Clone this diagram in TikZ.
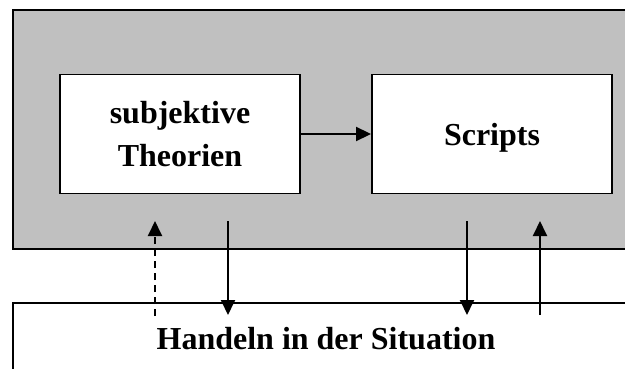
\documentclass[tikz,border=0pt]{standalone}
\usepackage{fontspec}
\setmainfont{Liberation Serif}
\usetikzlibrary{arrows.meta}
\definecolor{bggray}{HTML}{C0C0C0}
\begin{document}
\begin{tikzpicture}[x=1pt,y=-1pt,
  lw/.style={line width=1.9pt},
  txt/.style={font=\fontsize{32}{43}\selectfont\bfseries},
  box/.style={draw, lw, fill=white, minimum width=240pt, minimum height=119pt,
    inner sep=0pt, align=center, text depth=0pt, txt},
  arr/.style={lw, -{Triangle[length=15pt,width=14pt]}},
  dasharr/.style={arr, dash pattern=on 7pt off 5pt},
]
\useasboundingbox (0,0) rectangle (625,369);
\node[draw, lw, fill=bggray, anchor=north west, minimum width=660pt,
  minimum height=239pt, inner sep=0pt] (outer) at (12,9) {};
\node[draw, lw, anchor=north west, minimum width=660pt,
  minimum height=120pt, inner sep=0pt] (sit) at (12,302) {};
\node[txt, text depth=0pt] (sitlabel) at (326,338) {Handeln in der Situation};
\node[box] (st) at (180,134) {subjektive\\Theorien};
\node[box] (sc) at (492,134) {Scripts};
\draw[arr] (st.east) -- (sc.west);
\coordinate (d1s) at (155,316);
\coordinate (d1e) at (155,221);
\coordinate (a1s) at (228,221);
\coordinate (a1e) at (228,315);
\coordinate (a2s) at (467,221);
\coordinate (a2e) at (467,315);
\coordinate (u1s) at (540,315);
\coordinate (u1e) at (540,221);
\draw[dasharr] (d1s) -- (d1e);
\draw[arr] (a1s) -- (a1e);
\draw[arr] (a2s) -- (a2e);
\draw[arr] (u1s) -- (u1e);
\end{tikzpicture}
\end{document}
